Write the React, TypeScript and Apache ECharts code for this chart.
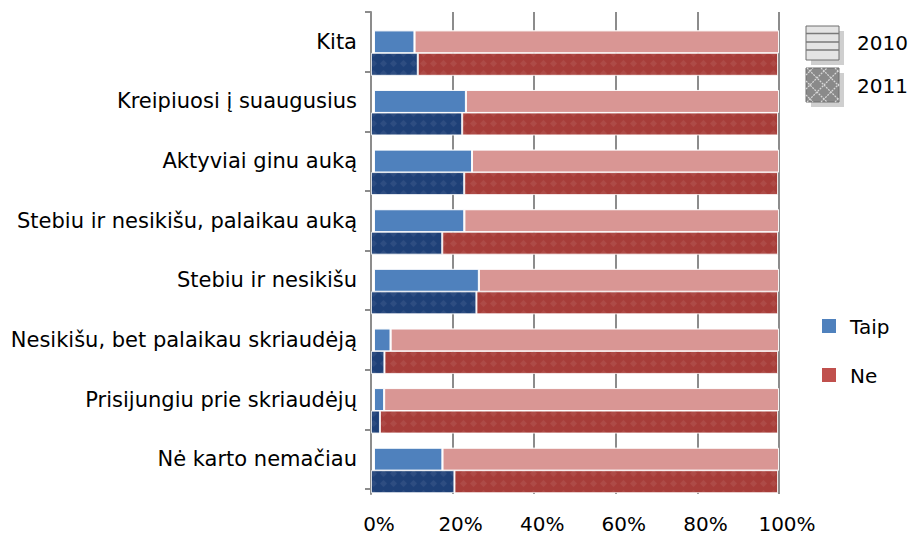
import React, { useEffect, useRef } from "react";
import * as echarts from "echarts";

const categories = [
  "Kita",
  "Kreipiuosi į suaugusius",
  "Aktyviai ginu auką",
  "Stebiu ir nesikišu, palaikau auką",
  "Stebiu ir nesikišu",
  "Nesikišu, bet palaikau skriaudėją",
  "Prisijungiu prie skriaudėjų",
  "Nė karto nemačiau",
];
const taip2010 = [10.0, 22.7, 24.2, 22.3, 25.9, 4.1, 2.5, 16.9];
const ne2010 = [90.0, 77.3, 75.8, 77.7, 74.1, 95.9, 97.5, 83.1];
const taip2011 = [11.5, 22.4, 22.9, 17.5, 25.9, 3.3, 2.2, 20.5];
const ne2011 = [88.5, 77.6, 77.1, 82.5, 74.1, 96.7, 97.8, 79.5];
const yearLabels = ["2010", "2011"];
const answerLabels = ["Taip", "Ne"];

const FONT = "DejaVu Sans";

function lattice(x0: number, y0: number, w: number, h: number, step: number, style: any) {
  const out: any[] = [];
  for (let c = -h + step / 2; c < w; c += step) {
    const sx = Math.max(0, c), sy = sx - c;
    const ex = Math.min(w, h + c), ey = ex - c;
    out.push({ type: "line", shape: { x1: x0 + sx, y1: y0 + sy, x2: x0 + ex, y2: y0 + ey }, style, silent: true });
  }
  for (let c = step / 2; c < w + h; c += step) {
    const sx = Math.max(0, c - h), sy = c - sx;
    const ex = Math.min(w, c), ey = c - ex;
    out.push({ type: "line", shape: { x1: x0 + sx, y1: y0 + sy, x2: x0 + ex, y2: y0 + ey }, style, silent: true });
  }
  return out;
}

export default function App() {
  const ref = useRef<HTMLDivElement>(null);
  useEffect(() => {
    const chart = echarts.init(ref.current!, null, { renderer: "svg" });
    const gridColor = "#8c8c8c";
    const hiddenCat = (gridIndex: number, extra: any = {}) => ({
      type: "category",
      gridIndex,
      data: categories,
      inverse: true,
      axisLine: { show: false },
      axisTick: { show: false },
      axisLabel: { show: false },
      ...extra,
    });
    const hiddenVal = (gridIndex: number) => ({
      type: "value",
      gridIndex,
      min: 0,
      max: 100,
      show: false,
      splitLine: { show: false },
    });
    const decal2011 = {
      symbol: "diamond",
      symbolSize: 1,
      color: "rgba(255,255,255,0.07)",
      dashArrayX: [[7, 3]],
      dashArrayY: [7, 3],
      rotation: 0,
    };
    const noDecal = { color: "rgba(0,0,0,0)", symbol: "none" };

    const box2011 = { x: 806, y: 68, w: 33, h: 34 };
    const option: any = {
      animation: false,
      backgroundColor: "#ffffff",
      textStyle: { fontFamily: FONT },
      grid: [
        { left: 371, right: 133, top: 12, bottom: 41 },
        { left: 371, right: 133, top: 12, height: 477 },
        { left: 374, right: 133, top: 12, height: 477 },
        { left: 371, right: 134, top: 34.5, height: 477 },
      ],
      xAxis: [
        {
          type: "value",
          gridIndex: 0,
          min: 0,
          max: 100,
          interval: 20,
          axisLine: { show: false },
          axisTick: { show: false },
          axisLabel: {
            formatter: "{value}%",
            fontSize: 20,
            color: "#000",
            fontFamily: FONT,
            margin: 20,
            padding: [0, 0, 0, 16],
          },
          splitLine: { show: true, lineStyle: { color: gridColor, width: 2 } },
        },
        hiddenVal(1),
        hiddenVal(2),
        hiddenVal(3),
      ],
      yAxis: [
        hiddenCat(0, { axisLine: { show: true, lineStyle: { color: gridColor, width: 2 } } }),
        hiddenCat(1, {
          axisTick: { show: true, length: 6, lineStyle: { color: gridColor, width: 2 } },
          axisLabel: {
            show: true,
            fontSize: 21,
            color: "#000",
            fontFamily: FONT,
            margin: 14,
            padding: [5, 0, 0, 0],
          },
        }),
        hiddenCat(2),
        hiddenCat(3),
      ],
      series: [
        {
          name: "2010 Taip",
          type: "bar",
          xAxisIndex: 2,
          yAxisIndex: 2,
          stack: "a",
          barWidth: 23,
          data: taip2010,
          itemStyle: { color: "#4F81BD", borderColor: "rgba(255,255,255,0.7)", borderWidth: 1, decal: noDecal },
        },
        {
          name: "2010 Ne",
          type: "bar",
          xAxisIndex: 2,
          yAxisIndex: 2,
          stack: "a",
          barWidth: 23,
          data: ne2010,
          itemStyle: { color: "#D99694", borderColor: "rgba(255,255,255,0.7)", borderWidth: 1, decal: noDecal },
        },
        {
          name: "2011 Taip",
          type: "bar",
          xAxisIndex: 3,
          yAxisIndex: 3,
          stack: "b",
          barWidth: 23,
          data: taip2011,
          itemStyle: { color: "#1E4077", borderColor: "rgba(255,255,255,0.5)", borderWidth: 1, decal: decal2011 },
        },
        {
          name: "2011 Ne",
          type: "bar",
          xAxisIndex: 3,
          yAxisIndex: 3,
          stack: "b",
          barWidth: 23,
          data: ne2011,
          itemStyle: { color: "#A73D39", borderColor: "rgba(255,255,255,0.5)", borderWidth: 1, decal: decal2011 },
        },
      ],
      graphic: [
        // 2010 legend box
        { type: "rect", shape: { x: 811, y: 31, width: 33, height: 34 }, style: { fill: "#cfcfcf" }, silent: true },
        { type: "rect", shape: { x: 806, y: 26, width: 33, height: 34 }, style: { fill: "#e4e4e4", stroke: "#6f6f6f", lineWidth: 1 }, silent: true },
        { type: "line", shape: { x1: 806, y1: 33.5, x2: 839, y2: 33.5 }, style: { stroke: "#7a7a7a", lineWidth: 1.5 }, silent: true },
        { type: "line", shape: { x1: 806, y1: 42, x2: 839, y2: 42 }, style: { stroke: "#7a7a7a", lineWidth: 1.5 }, silent: true },
        { type: "line", shape: { x1: 806, y1: 50, x2: 839, y2: 50 }, style: { stroke: "#7a7a7a", lineWidth: 1.5 }, silent: true },
        { type: "text", x: 857, y: 43, style: { text: yearLabels[0], fontSize: 20, fontFamily: FONT, fill: "#000", verticalAlign: "middle" }, silent: true },
        // 2011 legend box
        { type: "rect", shape: { x: 811, y: 73, width: 33, height: 34 }, style: { fill: "#cfcfcf" }, silent: true },
        { type: "rect", shape: { x: box2011.x, y: box2011.y, width: box2011.w, height: box2011.h }, style: { fill: "#8a8a8a", stroke: "#6f6f6f", lineWidth: 1 }, silent: true },
        ...lattice(box2011.x, box2011.y, box2011.w, box2011.h, 14, { stroke: "#d8d8d8", lineWidth: 1.2, lineDash: [2, 1] }),
        { type: "text", x: 857, y: 86, style: { text: yearLabels[1], fontSize: 20, fontFamily: FONT, fill: "#000", verticalAlign: "middle" }, silent: true },
        // Taip / Ne legend
        { type: "rect", shape: { x: 822, y: 319, width: 14, height: 14 }, style: { fill: "#4F81BD" }, silent: true },
        { type: "text", x: 850, y: 327, style: { text: answerLabels[0], fontSize: 20, fontFamily: FONT, fill: "#000", verticalAlign: "middle" }, silent: true },
        { type: "rect", shape: { x: 822, y: 368, width: 14, height: 14 }, style: { fill: "#C0504D" }, silent: true },
        { type: "text", x: 850, y: 376, style: { text: answerLabels[1], fontSize: 20, fontFamily: FONT, fill: "#000", verticalAlign: "middle" }, silent: true },
      ],
    };
    chart.setOption(option);
    return () => chart.dispose();
  }, []);
  return <div ref={ref} style={{ position: "absolute", left: 0, top: 0, width: 912, height: 535 }} />;
}
